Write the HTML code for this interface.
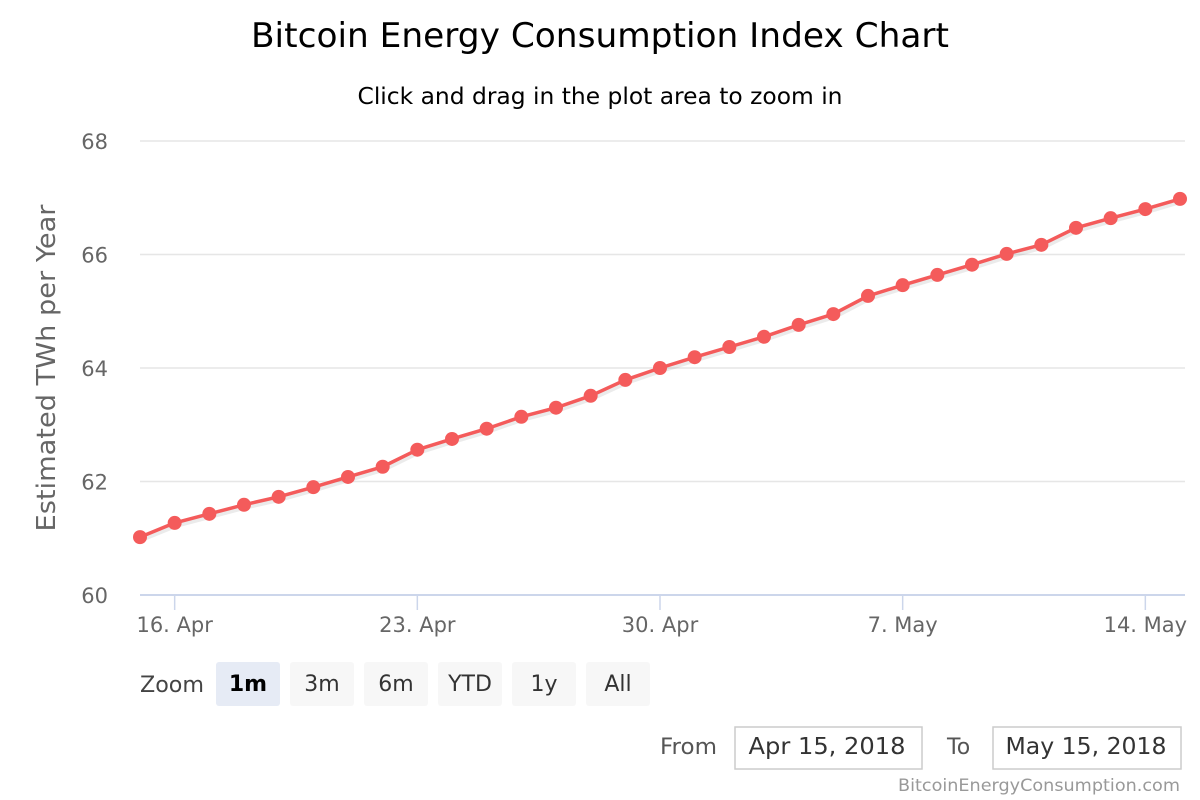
<!DOCTYPE html>
<html><head><meta charset="utf-8"><style>
body{margin:0;background:#fff;}
svg{display:block;font-family:"DejaVu Sans","Liberation Sans",sans-serif;}
</style></head><body>
<svg id="chart" width="1200" height="800">
<text x="600" y="47" text-anchor="middle" font-size="34" fill="#000" textLength="698" lengthAdjust="spacingAndGlyphs">Bitcoin Energy Consumption Index Chart</text>
<text x="600" y="104" text-anchor="middle" font-size="23" fill="#000" textLength="485" lengthAdjust="spacingAndGlyphs">Click and drag in the plot area to zoom in</text>
<g id="grid"></g>
<g id="xaxis"></g>
<text transform="translate(55,368) rotate(-90)" text-anchor="middle" font-size="26" fill="#666" textLength="327" lengthAdjust="spacingAndGlyphs">Estimated TWh per Year</text>
<rect x="140" y="120" width="1045" height="475" fill="transparent"/>
<g id="series"></g>
<text x="140" y="692" font-size="22" fill="#444" textLength="64" lengthAdjust="spacingAndGlyphs">Zoom</text>
<g id="buttons"></g>
<text x="660" y="754" font-size="22" fill="#555" textLength="57" lengthAdjust="spacingAndGlyphs">From</text>
<rect x="735" y="727" width="187" height="42" fill="#fff" stroke="#ccc" stroke-width="1.5"/>
<text x="827" y="754" text-anchor="middle" font-size="23" fill="#333" textLength="157" lengthAdjust="spacingAndGlyphs">Apr 15, 2018</text>
<text x="947" y="754" font-size="22" fill="#555">To</text>
<rect x="993" y="727" width="188" height="42" fill="#fff" stroke="#ccc" stroke-width="1.5"/>
<text x="1086" y="754" text-anchor="middle" font-size="23" fill="#333" textLength="161" lengthAdjust="spacingAndGlyphs">May 15, 2018</text>
<text x="1180" y="791" text-anchor="end" font-size="17" fill="#999" textLength="282" lengthAdjust="spacingAndGlyphs">BitcoinEnergyConsumption.com</text>
</svg>
<script>
const values=[61.02,61.27,61.43,61.59,61.73,61.90,62.08,62.26,62.56,62.75,62.93,63.14,63.30,63.51,63.79,64.00,64.19,64.37,64.55,64.76,64.95,65.27,65.46,65.64,65.82,66.01,66.17,66.47,66.64,66.80,66.98];
const yTicks=[60,62,64,66,68];
const xTickDays=[1,8,15,22,29];
const xTickLabels=["16. Apr","23. Apr","30. Apr","7. May","14. May"];
const buttonLabels=["1m","3m","6m","YTD","1y","All"];
const NS="http://www.w3.org/2000/svg";
const x0=140,x1=1180,y0=595,y1=141,ymin=60,ymax=68,nDays=30;
const X=d=>x0+(x1-x0)*d/nDays;
const Y=v=>y0-(y0-y1)*(v-ymin)/(ymax-ymin);
function mk(t,a,p){const e=document.createElementNS(NS,t);for(const k in a)e.setAttribute(k,a[k]);p.appendChild(e);return e;}
const grid=document.getElementById('grid');
yTicks.forEach(v=>{
 const l=mk('line',{x1:x0,x2:1185,y1:Y(v),y2:Y(v),stroke:v===60?'#ccd6eb':'#e6e6e6','stroke-width':v===60?2:1.5},grid);
 
 
 const t=mk('text',{x:108,y:Y(v)+8,'text-anchor':'end','font-size':21,fill:'#666'},grid);
 t.textContent=v;
 
 
});
const xa=document.getElementById('xaxis');
xTickDays.forEach((d,i)=>{
 const l=mk('line',{x1:X(d),x2:X(d),y1:595,y2:610,stroke:'#ccd6eb','stroke-width':1.5},xa);
 
 
 const t=mk('text',{x:X(d),y:632,'text-anchor':'middle','font-size':21,fill:'#666'},xa);
 t.textContent=xTickLabels[i];
 
 
});
const s=document.getElementById('series');
const pts=values.map((v,i)=>X(i)+','+Y(v)).join(' ');
const sh=mk('polyline',{points:pts,fill:'none',stroke:'rgba(0,0,0,0.08)','stroke-width':6,transform:'translate(1,2)'},s);


const pl=mk('polyline',{points:pts,fill:'none',stroke:'#f45b5b','stroke-width':3.5,'stroke-linejoin':'round'},s);


values.forEach((v,i)=>{
 const c=mk('circle',{cx:X(i),cy:Y(v),r:7,fill:'#f45b5b'},s);
 
 
});
const b=document.getElementById('buttons');
buttonLabels.forEach((lab,i)=>{
 const bx=216+i*74;
 const r=mk('rect',{x:bx,y:662,width:64,height:44,rx:3,fill:i===0?'#e6ebf5':'#f7f7f7'},b);
 
 
 const t=mk('text',{x:bx+32,y:691,'text-anchor':'middle','font-size':22,fill:i===0?'#000':'#333','font-weight':i===0?'bold':'normal'},b);
 t.textContent=lab;
 
 
});
</script>
</body></html>
